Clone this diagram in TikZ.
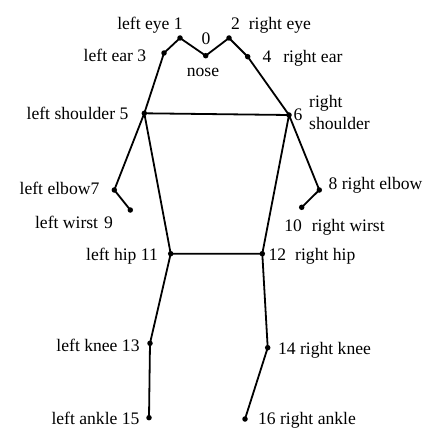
\documentclass[tikz,border=0pt]{standalone}
\usepackage{fontspec}
\setmainfont{Liberation Serif}
\begin{document}
\begin{tikzpicture}[x=1pt,y=-1pt,
  kp/.style={circle,fill=black,inner sep=0pt,minimum size=5.5pt},
  bone/.style={line width=1.8pt,line cap=round},
  lbl/.style={anchor=base,inner sep=0pt,font=\fontsize{17.6}{22}\selectfont}]
\useasboundingbox[fill=white] (0,0) rectangle (436,436);
% keypoints
\node[kp] (p0) at (205.7,55.7) {};
\node[kp] (p1) at (180,38) {};
\node[kp] (p2) at (229,38) {};
\node[kp] (p3) at (164,53) {};
\node[kp] (p4) at (247.7,56.7) {};
\node[kp] (p5) at (144.3,113.3) {};
\node[kp] (p6) at (289,115) {};
\node[kp] (p7) at (114.3,190) {};
\node[kp] (p8) at (319.3,190) {};
\node[kp] (p9) at (130.3,210) {};
\node[kp] (p10) at (301.7,207.3) {};
\node[kp] (p11) at (170.7,253.7) {};
\node[kp] (p12) at (262.3,253.7) {};
\node[kp] (p13) at (150,343.3) {};
\node[kp] (p14) at (267.7,347.7) {};
\node[kp] (p15) at (149,417.7) {};
\node[kp] (p16) at (245,419) {};
% skeleton
\draw[bone] (p3.center) -- (p1.center) -- (p0.center) -- (p2.center) -- (p4.center) -- (p6.center);
\draw[bone] (p3.center) -- (p5.center) -- (p6.center);
\draw[bone] (p9.center) -- (p7.center) -- (p5.center) -- (p11.center) -- (p12.center) -- (p6.center) -- (p8.center) -- (p10.center);
\draw[bone] (p15.center) -- (p13.center) -- (p11.center);
\draw[bone] (p16.center) -- (p14.center) -- (p12.center);
% labels
\node[lbl] (l1) at (150,30) {left eye 1};
\node[lbl] (l2) at (271,30) {2\hspace{9pt}right eye};
\node[lbl] (l0) at (206,45) {0};
\node[lbl] (ln) at (203,76) {nose};
\node[lbl] (l3) at (115,62) {left ear 3};
\node[lbl] (l4) at (302.5,63) {4\hspace{12pt}right ear};
\node[lbl] (l5) at (77.5,119) {left shoulder 5};
\node[lbl] (l6) at (298,120) {6};
\node[anchor=west,inner sep=0pt,align=left,font=\fontsize{17.6}{22}\selectfont] (l6b) at (309,112) {right\\shoulder};
\node[lbl] (l7) at (59.5,194) {left elbow7};
\node[lbl] (l9) at (74,228) {left wirst\hspace{6pt}9};
\node[lbl] (l8) at (375.5,189) {8 right elbow};
\node[lbl] (l10) at (334.5,231) {10\hspace{10pt}right wirst};
\node[lbl] (l11) at (122,260) {left hip 11};
\node[lbl] (l12) at (312,260) {12\hspace{9pt}right hip};
\node[lbl] (l13) at (98,351) {left knee 13};
\node[lbl] (l14) at (324.5,354) {14 right knee};
\node[lbl] (l15) at (95.5,424) {left ankle 15};
\node[lbl] (l16) at (307,424) {16 right ankle};
\end{tikzpicture}
\end{document}
